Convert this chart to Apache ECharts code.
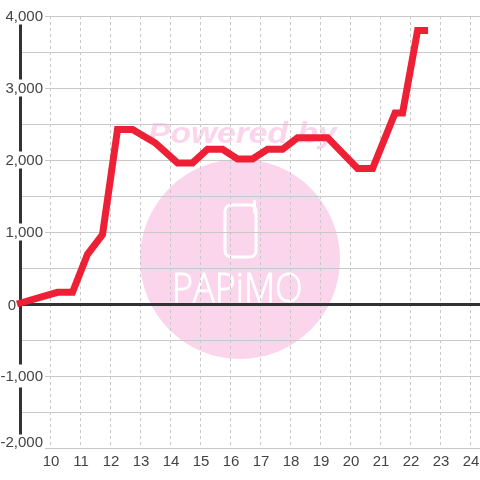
<!DOCTYPE html>
<html>
<head>
<meta charset="utf-8">
<style>
  html, body { margin: 0; padding: 0; background: #fff; }
  #chart { width: 480px; height: 480px; }
</style>
</head>
<body>
<div id="chart"></div>
<script src="https://cdn.jsdelivr.net/npm/echarts@6/dist/echarts.min.js"></script>
<script>
const hours = [8.9, 10.25, 10.75, 11.25, 11.75, 12.25, 12.75, 13.5, 14.25, 14.75, 15.25, 15.75, 16.25, 16.75, 17.25, 17.75, 18.25, 19.25, 20.25, 20.75, 21.5, 21.75, 22.25, 22.6];
const values = [0, 163, 163, 690, 965, 2424, 2424, 2240, 1960, 1960, 2150, 2150, 2014, 2014, 2150, 2150, 2310, 2310, 1882, 1882, 2653, 2653, 3800, 3800];

const labelFont = "Liberation Sans";
const textColor = "#444";

const chart = echarts.init(document.getElementById("chart"), null, { renderer: "canvas" });

const yLabel = (v) => {
  if (v % 1000 !== 0) return "";
  const text = v.toLocaleString("en-US");
  if (v === 0) return `{zero|${text}}`;
  if (v === -2000) return `{bottom|${text}}`;
  if (v < 0) return `{neg|${text}}`;
  return `{pos|${text}}`;
};

const labelStyle = { fontFamily: labelFont, fontSize: 15, color: textColor, lineHeight: 13 };

chart.setOption({
  backgroundColor: "#fff",
  animation: false,
  grid: { left: 20, right: 0, top: 16, bottom: 32, containLabel: false, outerBoundsMode: "none" },
  xAxis: {
    type: "value",
    min: 9,
    max: 24.33,
    interval: 1,
    axisLine: { show: false },
    axisTick: { show: false },
    axisLabel: {
      margin: 6,
      showMinLabel: false,
      showMaxLabel: false,
      padding: [0, 0, 0, 2],
      fontFamily: labelFont,
      fontSize: 15,
      color: textColor,
    },
    splitLine: { show: true, lineStyle: { color: "#c8c8c8", width: 1, type: [3, 3] } },
  },
  yAxis: {
    type: "value",
    min: -2000,
    max: 4000,
    interval: 500,
    axisLine: { show: true, onZero: false, lineStyle: { color: "#333", width: 3 } },
    axisTick: { show: false },
    axisLabel: {
      margin: -25,
      align: "right",
      hideOverlap: false,
      formatter: yLabel,
      rich: {
        pos: { ...labelStyle, padding: [2, 2, 0, 0], backgroundColor: "#fff" },
        neg: { ...labelStyle, padding: [5, 2, 3, 0], backgroundColor: "#fff" },
        bottom: { ...labelStyle, padding: [1, 2, 11, 0], backgroundColor: "#fff" },
        zero: { ...labelStyle, padding: [3, 29, 0, 0] },
      },
    },
    splitLine: { show: true, lineStyle: { color: "#c8c8c8", width: 1 } },
  },
  graphic: {
    elements: [
      { type: "circle", z: -1, silent: true, shape: { cx: 240, cy: 259, r: 100 }, style: { fill: "#fbd5ec" } },
      {
        type: "text", z: -1, silent: true, x: 148, y: 120, scaleX: 1.12,
        style: { text: "Powered by", fill: "#fbd5ec", font: "italic bold 30px 'Liberation Sans'" },
      },
      {
        type: "rect", z: -1, silent: true,
        shape: { x: 225, y: 205, width: 31, height: 52, r: 6 },
        style: { fill: "none", stroke: "#fff", lineWidth: 3 },
      },
      {
        type: "line", z: -1, silent: true,
        shape: { x1: 254.5, y1: 201, x2: 254.5, y2: 212 },
        style: { stroke: "#fff", lineWidth: 3, lineCap: "round" },
      },
      {
        type: "text", z: -1, silent: true, x: 172, y: 271, scaleX: 0.9,
        style: { text: "PAPiMO", fill: "#fff", stroke: "#fff", lineWidth: 0.8, font: "300 40px 'Open Sans'" },
      },
    ],
  },
  series: [
    {
      type: "line",
      z: 10,
      clip: false,
      symbol: "none",
      data: hours.map((h, i) => [h, values[i]]),
      lineStyle: { color: "#ee2035", width: 7, cap: "butt", join: "miter" },
      markLine: {
        z: 3,
        silent: true,
        symbol: "none",
        label: { show: false },
        lineStyle: { color: "#333", width: 3, type: "solid" },
        data: [{ yAxis: 0 }],
      },
    },
  ],
});
</script>
</body>
</html>
